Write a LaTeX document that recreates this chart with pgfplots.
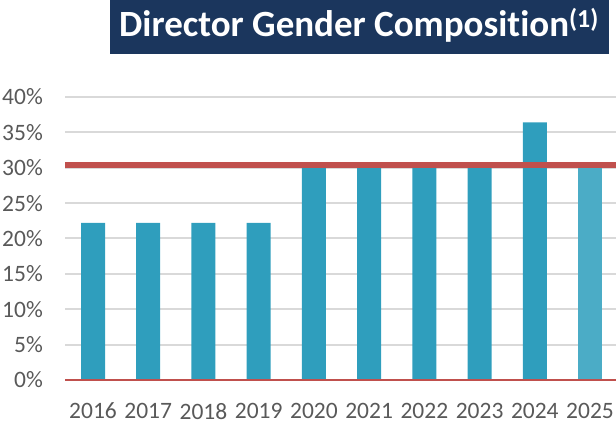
\documentclass[border=0pt]{standalone}
\usepackage{pgfplots}
\pgfplotsset{compat=1.18}
\usepackage{fontspec}
\setmainfont{Carlito}[RawFeature={-liga;-dlig}]
\definecolor{navy}{HTML}{1B365D}
\definecolor{tealbar}{HTML}{2F9EBD}
\definecolor{teallight}{HTML}{4BACC6}
\definecolor{redl}{HTML}{C0504D}
\definecolor{gridc}{HTML}{D9D9D9}
\definecolor{labc}{HTML}{595959}
\begin{document}
\begin{tikzpicture}[x=1pt,y=1pt]
\useasboundingbox (0,0) rectangle (616,423);
\fill[navy] (110,423) rectangle (609,369);
\node[text=white, font=\bfseries\fontsize{37}{44}\selectfont, anchor=base, inner sep=0pt] at (359,386) {Director Gender Composition\textsuperscript{(1)}};
\begin{axis}[
  at={(65.4pt,43pt)}, anchor=south west,
  scale only axis, width=550.6pt, height=283pt,
  xmin=-0.5, xmax=9.47, ymin=0, ymax=40,
  axis line style={draw=none},
  ytick={0,5,10,15,20,25,30,35,40},
  yticklabels={0\%,5\%,10\%,15\%,20\%,25\%,30\%,35\%,40\%},
  xtick={0,1,2,3,4,5,6,7,8,9},
  xticklabels={2016,2017,2018,2019,2020,2021,2022,2023,2024,2025},
  ymajorgrids, grid style={gridc, line width=2pt},
  major tick length=0pt,
  tick label style={font=\fontsize{23.5}{28}\selectfont, text=labc},
  yticklabel style={xshift=-19pt},
  xticklabel style={yshift=-22.8pt, inner sep=0pt},
  clip=false,
]
\addplot[ybar, bar width=24pt, fill=tealbar, draw=none] coordinates {
  (0,22.2) (1,22.2) (2,22.2) (3,22.2) (4,30) (5,30) (6,30) (7,30) (8,36.4)};
\addplot[ybar, bar width=24pt, fill=teallight, draw=none] coordinates {(9,30)};
\addplot[redl, line width=2pt] coordinates {(-0.5,0) (9.47,0)};
\addplot[redl, line width=6pt] coordinates {(-0.5,30.4) (9.47,30.4)};
\end{axis}
\end{tikzpicture}
\end{document}
